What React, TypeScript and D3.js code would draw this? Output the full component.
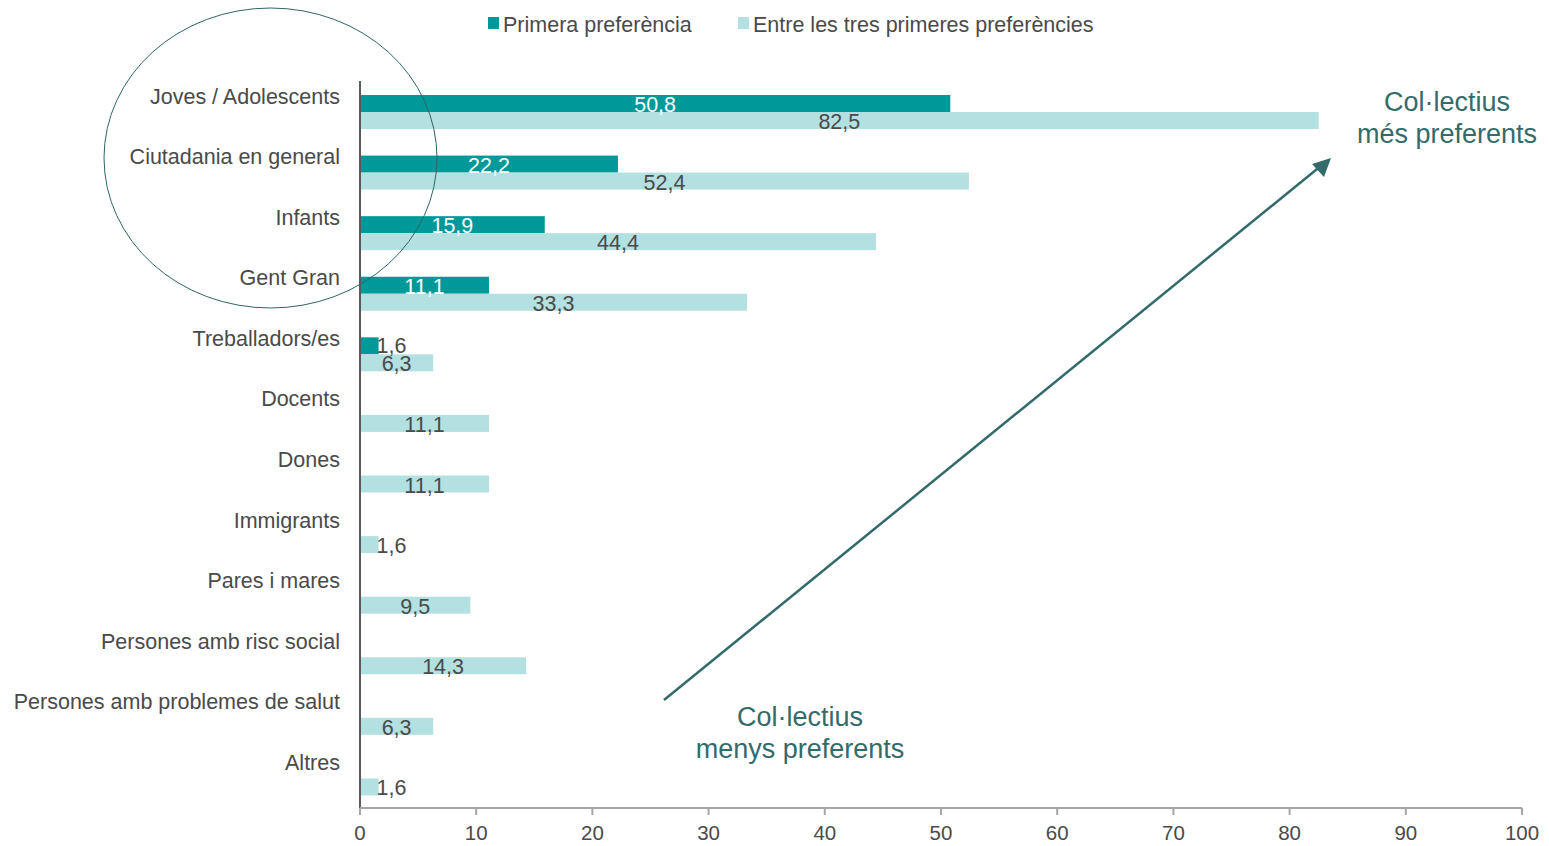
import React from "react";
import * as d3 from "d3";

const categories = [
  "Joves / Adolescents",
  "Ciutadania en general",
  "Infants",
  "Gent Gran",
  "Treballadors/es",
  "Docents",
  "Dones",
  "Immigrants",
  "Pares i mares",
  "Persones amb risc social",
  "Persones amb problemes de salut",
  "Altres",
];
const primera: (number | null)[] = [50.8, 22.2, 15.9, 11.1, 1.6, null, null, null, null, null, null, null];
const tres: number[] = [82.5, 52.4, 44.4, 33.3, 6.3, 11.1, 11.1, 1.6, 9.5, 14.3, 6.3, 1.6];
const ticks = [0, 10, 20, 30, 40, 50, 60, 70, 80, 90, 100];
const seriesNames = ["Primera preferència", "Entre les tres primeres preferències"];

const DARK = "#009999";
const LIGHT = "#B3E0E1";
const TEXT = "#4a4a4a";
const ANNOT = "#336B6B";
const FONT = "'Liberation Sans', Arial, sans-serif";
const FS = 21.5;

const fmt = (v: number) => v.toFixed(1).replace(".", ",");

export default function App() {
  const W = 1549, H = 846;
  const left = 360, right = 1522, top = 81, bottom = 808;
  const x = d3.scaleLinear().domain([0, 100]).range([left, right]);
  const y = d3.scaleBand<string>().domain(categories).range([top, bottom]);
  const barH = 17;
  const offset = 14; // from band start to dark bar top

  return (
    <svg width={W} height={H} style={{ position: "absolute", left: 0, top: 0, fontFamily: FONT }}>
      {/* legend */}
      <rect x={488} y={17} width={11} height={12} fill={DARK} />
      <text x={503} y={24} dy="0.35em" fontSize={FS} fill={TEXT}>{seriesNames[0]}</text>
      <rect x={738} y={17} width={11} height={12} fill={LIGHT} />
      <text x={753} y={24} dy="0.35em" fontSize={FS} fill={TEXT}>{seriesNames[1]}</text>

      {/* bars */}
      {categories.map((c, i) => {
        const y0 = (y(c) as number) + offset;
        const p = primera[i];
        const t = tres[i];
        return (
          <g key={c}>
            {p != null && (
              <rect x={x(0)} y={y0} width={x(p) - x(0)} height={barH} fill={DARK} />
            )}
            <rect x={x(0)} y={y0 + barH} width={x(t) - x(0)} height={barH} fill={LIGHT} />
            {p != null && (
              p >= 4 ? (
                <text x={(x(0) + x(p)) / 2} y={y0 + barH / 2 + 1} dy="0.35em" textAnchor="middle" fontSize={FS} fill="#ffffff">{fmt(p)}</text>
              ) : (
                <text x={x(p) - 2} y={y0 + barH / 2} dy="0.35em" textAnchor="start" fontSize={FS} fill={TEXT}>{fmt(p)}</text>
              )
            )}
            {t >= 4 ? (
              <text x={(x(0) + x(t)) / 2} y={y0 + barH * 1.5 + 1} dy="0.35em" textAnchor="middle" fontSize={FS} fill={TEXT}>{fmt(t)}</text>
            ) : (
              <text x={x(t) - 2} y={y0 + barH * 1.5 + 1} dy="0.35em" textAnchor="start" fontSize={FS} fill={TEXT}>{fmt(t)}</text>
            )}
            <text x={340} y={y0 + 1} dy="0.35em" textAnchor="end" fontSize={FS} fill={TEXT}>{c}</text>
          </g>
        );
      })}

      {/* axes */}
      <line x1={left} x2={left} y1={top} y2={bottom} stroke="#595959" strokeWidth={2} />
      <line x1={left} x2={right} y1={bottom} y2={bottom} stroke="#A6A6A6" strokeWidth={2} />
      {ticks.map((t) => (
        <g key={t}>
          <line x1={x(t)} x2={x(t)} y1={bottom} y2={bottom + 7} stroke="#A6A6A6" strokeWidth={2} />
          <text x={x(t)} y={833} dy="0.35em" textAnchor="middle" fontSize={20.5} fill={TEXT}>{t}</text>
        </g>
      ))}

      {/* ellipse */}
      <ellipse cx={270.5} cy={158} rx={166.5} ry={150} fill="none" stroke="#2F6565" strokeWidth={1} />

      {/* arrow */}
      <line x1={664} y1={700} x2={1322} y2={165} stroke={ANNOT} strokeWidth={2.5} />
      <path d="M1331,158 L1312,164 L1324,177 Z" fill={ANNOT} />

      <text x={1447} y={102} dy="0.35em" textAnchor="middle" fontSize={27} fill={ANNOT}>Col·lectius</text>
      <text x={1447} y={134} dy="0.35em" textAnchor="middle" fontSize={27} fill={ANNOT}>més preferents</text>
      <text x={800} y={717} dy="0.35em" textAnchor="middle" fontSize={27} fill={ANNOT}>Col·lectius</text>
      <text x={800} y={749} dy="0.35em" textAnchor="middle" fontSize={27} fill={ANNOT}>menys preferents</text>
    </svg>
  );
}
